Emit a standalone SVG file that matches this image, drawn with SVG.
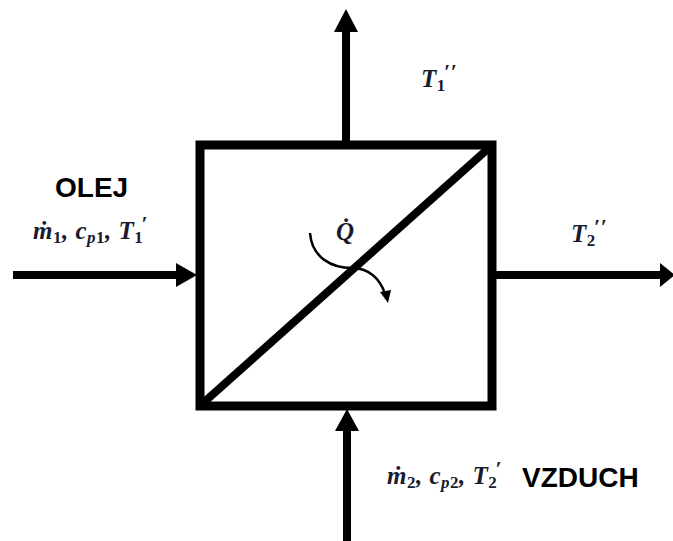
<svg xmlns="http://www.w3.org/2000/svg" width="673" height="541" viewBox="0 0 673 541">
<style>
.edge{stroke:#000;stroke-width:8;fill:none}
.head{fill:#000}
.lbl{font-family:"Liberation Sans",Arial,sans-serif;font-weight:bold;font-size:28px;fill:#000}
.math{font-family:"Liberation Serif","Times New Roman",serif;font-weight:bold;font-style:italic;font-size:25px;fill:#1a1a2e;letter-spacing:0.5px}
.sub{font-size:17px;font-style:normal}
.it{font-style:italic}
.sup{font-size:22px}
</style>
<rect width="673" height="541" fill="#fff"/>
<g id="exchanger">
<rect x="200" y="145" width="292" height="261" fill="none" stroke="#000" stroke-width="9"/>
<line x1="202" y1="404" x2="490" y2="147" stroke="#000" stroke-width="8"/>
</g>
<g id="connectors">
<g id="in-oil">
<line class="edge" x1="13" y1="275" x2="180" y2="275"/>
<polygon class="head" points="197,275 176,263 176,287"/>
</g>
<g id="out-oil">
<line class="edge" x1="346" y1="141" x2="346" y2="28"/>
<polygon class="head" points="346,9 334,32 358,32"/>
</g>
<g id="out-air">
<line class="edge" x1="496" y1="275" x2="660" y2="275"/>
<polygon class="head" points="675,275 660,263 660,287"/>
</g>
<g id="in-air">
<line class="edge" x1="347" y1="541" x2="347" y2="426"/>
<polygon class="head" points="347,409 335,431 359,431"/>
</g>
<g id="heat">
<path d="M310,233 C312,258 332,268 352,268 C368,268 380,278 385,294" stroke="#000" stroke-width="2.5" fill="none"/>
<polygon class="head" points="388,303 380,292 391,290"/>
</g>
</g>
<g id="oil-label">
<text class="lbl" x="55" y="197">OLEJ</text>
<text class="math" x="33" y="239">ṁ<tspan class="sub" dy="4">1</tspan><tspan dy="-4">, c</tspan><tspan class="sub" dy="4"><tspan class="it">p</tspan>1</tspan><tspan dy="-4">, T</tspan><tspan class="sub" dy="4">1</tspan><tspan class="sup" dx="-2" dy="-12">′</tspan></text>
</g>
<g id="air-label">
<text class="lbl" x="522" y="487">VZDUCH</text>
<text class="math" x="387" y="484">ṁ<tspan class="sub" dy="4">2</tspan><tspan dy="-4">, c</tspan><tspan class="sub" dy="4"><tspan class="it">p</tspan>2</tspan><tspan dy="-4">, T</tspan><tspan class="sub" dy="4">2</tspan><tspan class="sup" dx="-2" dy="-12">′</tspan></text>
</g>
<g id="t1-out">
<text class="math" x="421" y="87">T<tspan class="sub" dy="4">1</tspan><tspan class="sup" dx="-2" dy="-12">′′</tspan></text>
</g>
<g id="t2-out">
<text class="math" x="571" y="242">T<tspan class="sub" dy="4">2</tspan><tspan class="sup" dx="-2" dy="-12">′′</tspan></text>
</g>
<g id="q-label">
<text class="math" x="336" y="240">Q̇</text>
</g>
</svg>
